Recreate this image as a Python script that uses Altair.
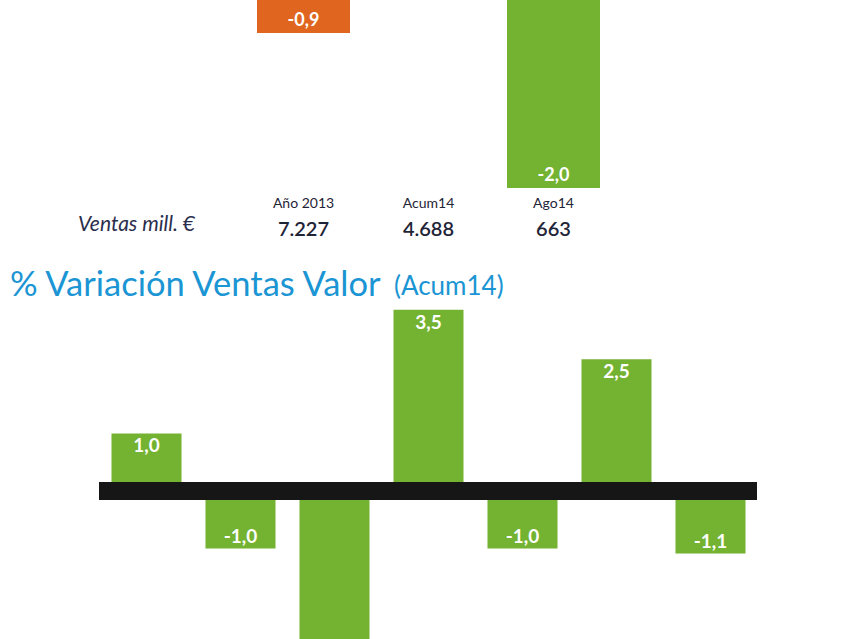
import altair as alt
import pandas as pd

# ---- data ----
top_cats = ["Año 2013", "Acum14", "Ago14"]
top_bar_cats = ["Año 2013", "Ago14"]
top_bar_vals = [-0.9, -2.0]
top_bar_labels = ["-0,9", "-2,0"]
top_bar_colors = ["#e0661f", "#74b232"]
ventas_vals = ["7.227", "4.688", "663"]

bot_cats = ["1", "2", "3", "4", "5", "6", "7"]
bot_vals = [1.0, -1.0, -3.5, 3.5, -1.0, 2.5, -1.1]
bot_labels = ["1,0", "-1,0", "", "3,5", "-1,0", "2,5", "-1,1"]

W, H = 859, 639
FONT = "Lato"
GREEN = "#74b232"
NAVY = "#1f2437"
BLUE = "#1b95d3"

top_bars = pd.DataFrame({"cat": top_bar_cats, "v": top_bar_vals,
                         "lab": top_bar_labels, "col": top_bar_colors})
top_table = pd.DataFrame({"cat": top_cats, "val": ventas_vals})
bot = pd.DataFrame({"cat": bot_cats, "v": bot_vals, "lab": bot_labels})
bot_pos = bot[bot.v > 0]
bot_neg = bot[bot.v < 0]
bot_neg_lab = bot_neg[bot_neg.lab != ""]

# scales
x_top = alt.Scale(domain=top_cats, range=[241, 616], paddingInner=0.256, paddingOuter=0.128)
y_top = alt.Scale(domain=[-5.201, -0.666], range=[H, 0], nice=False, zero=False)
x_bot = alt.Scale(domain=bot_cats, range=[99.5, 757.5], paddingInner=0.255, paddingOuter=0.1275)
y_bot = alt.Scale(domain=[-2.990, 9.919], range=[H, 0], nice=False, zero=False)

X_top = alt.X("cat:N", scale=x_top, axis=None, sort=top_cats)
X_bot = alt.X("cat:N", scale=x_bot, axis=None, sort=bot_cats)

# ---- top panel ----
tb = alt.Chart(top_bars).mark_bar(clip=True).encode(
    x=X_top,
    y=alt.Y("v:Q", scale=y_top, axis=None),
    y2=alt.datum(0),
    color=alt.Color("col:N", scale=None),
)
tl = alt.Chart(top_bars).mark_text(clip=True, baseline="bottom", dy=-3, color="white",
                                   font=FONT, fontSize=18, fontWeight="bold").encode(
    x=X_top, y=alt.Y("v:Q", scale=y_top, axis=None), text="lab:N")
head = alt.Chart(top_table).mark_text(baseline="alphabetic", color=NAVY, font=FONT,
                                      fontSize=14).encode(
    x=X_top, y=alt.value(208), text="cat:N")
vals = alt.Chart(top_table).mark_text(baseline="alphabetic", color=NAVY, font=FONT,
                                      fontSize=20, fontWeight=600).encode(
    x=X_top, y=alt.value(236), text="val:N")
ventas = alt.Chart(pd.DataFrame({"t": ["Ventas mill. €"]})).mark_text(
    align="right", baseline="alphabetic", color="#2b2e4d", font=FONT, fontSize=21,
    fontStyle="italic").encode(x=alt.value(195), y=alt.value(231), text="t:N")

top_panel = alt.layer(tb, tl, head, vals, ventas)

# ---- title ----
title1 = alt.Chart(pd.DataFrame({"t": ["% Variación Ventas Valor"]})).mark_text(
    align="left", baseline="alphabetic", color=BLUE, font=FONT, fontSize=34.5).encode(
    x=alt.value(10), y=alt.value(296), text="t:N")
title2 = alt.Chart(pd.DataFrame({"t": ["(Acum14)"]})).mark_text(
    align="left", baseline="alphabetic", color=BLUE, font=FONT, fontSize=26).encode(
    x=alt.value(394), y=alt.value(295), text="t:N")

# ---- bottom panel ----
Y_bot = alt.Y("v:Q", scale=y_bot, axis=None)
bp = alt.Chart(bot_pos).mark_bar(clip=True, color=GREEN, yOffset=-8).encode(
    x=X_bot, y=Y_bot, y2=alt.datum(0))
bn = alt.Chart(bot_neg).mark_bar(clip=True, color=GREEN, yOffset=8).encode(
    x=X_bot, y=Y_bot, y2=alt.datum(0))
lp = alt.Chart(bot_pos).mark_text(clip=True, baseline="top", dy=-4, color="white",
                                  font=FONT, fontSize=19, fontWeight="bold").encode(
    x=X_bot, y=Y_bot, text="lab:N")
ln = alt.Chart(bot_neg_lab).mark_text(clip=True, baseline="bottom", dy=7, color="white",
                                      font=FONT, fontSize=19, fontWeight="bold").encode(
    x=X_bot, y=Y_bot, text="lab:N")
zero = alt.Chart(pd.DataFrame({"z": [0]})).mark_rule(
    color="#161616", strokeWidth=18).encode(
    y=alt.Y("z:Q", scale=y_bot, axis=None), x=alt.value(99), x2=alt.value(757))

bot_panel = alt.layer(bp, bn, zero, lp, ln)

chart = alt.layer(top_panel, title1, title2, bot_panel).resolve_scale(
    x="independent", y="independent", color="independent"
).properties(
    width=W, height=H, padding=0, autosize=alt.AutoSizeParams(type="none"),
    background="white"
).configure_view(stroke=None)

chart.save("out.html", embed_options={"renderer": "svg", "actions": False})
